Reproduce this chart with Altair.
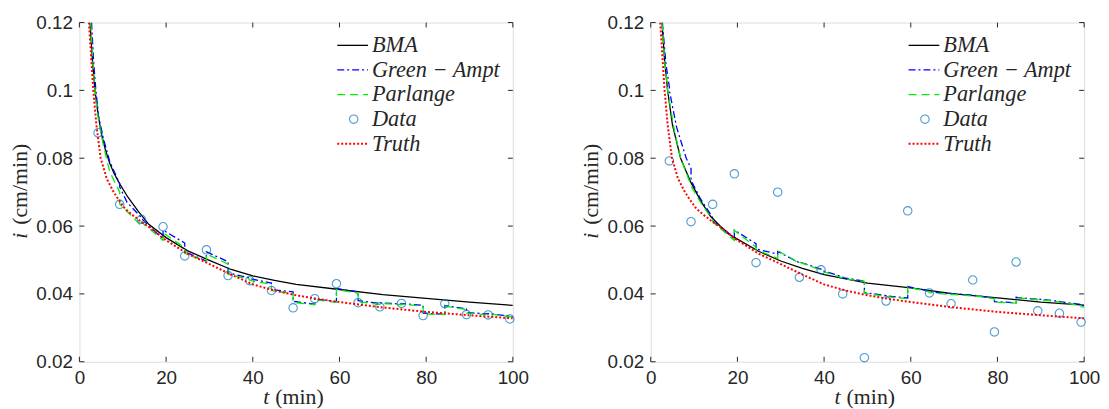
import altair as alt
import pandas as pd

# ---------------- data ----------------
t_data = [4.3, 9.3, 14.3, 19.3, 24.3, 29.3, 34.3, 39.3, 44.3, 49.3,
          54.3, 59.3, 64.3, 69.3, 74.3, 79.3, 84.3, 89.3, 94.3, 99.3]
left_data = [0.0875, 0.0664, 0.0620, 0.0598, 0.0512, 0.0530, 0.0454, 0.0439, 0.0410, 0.0359,
             0.0386, 0.0430, 0.0374, 0.0362, 0.0372, 0.0336, 0.0371, 0.0339, 0.0338, 0.0326]
right_data = [0.0792, 0.0613, 0.0664, 0.0754, 0.0492, 0.0700, 0.0449, 0.0471, 0.0400, 0.0212,
              0.0379, 0.0645, 0.0403, 0.0371, 0.0441, 0.0288, 0.0494, 0.0350, 0.0343, 0.0317]

bma_left_t = [2.45, 3.0, 3.6, 4.3, 5.1, 6.0, 7.0, 8.0, 9.4, 11.2, 13.5, 16, 20, 25, 30, 35, 40, 45, 50,
              60, 70, 80, 90, 100]
bma_left_v = [0.120, 0.109, 0.100, 0.093, 0.087, 0.0825, 0.0785, 0.0755, 0.0722, 0.0685, 0.0645, 0.0605,
              0.0566, 0.0527, 0.0499, 0.0472, 0.0453, 0.0440, 0.0428, 0.0413, 0.0398, 0.0387, 0.0376,
              0.0366]

bma_right_t = [2.6, 3.2, 3.9, 5.0, 6.9, 9.3, 11.5, 13.8, 16, 18.7, 25, 30, 35, 40, 50, 60, 70, 80, 90, 100]
bma_right_v = [0.120, 0.109, 0.100, 0.090, 0.080, 0.0728, 0.0675, 0.0629, 0.0600, 0.0571, 0.0525, 0.0497,
               0.0475, 0.0457, 0.0432, 0.0418, 0.0400, 0.0388, 0.0376, 0.0367]

truth_t = [2.2, 2.7, 3.2, 3.9, 4.9, 6.3, 7.7, 8.9, 10.5, 12, 14, 16.3, 20, 25, 30, 35, 40, 45, 50, 55,
           60, 70, 80, 90, 100]
truth_v = [0.120, 0.110, 0.100, 0.090, 0.080, 0.0740, 0.0705, 0.0680, 0.0652, 0.0635, 0.0615, 0.0595,
           0.0558, 0.0518, 0.0488, 0.0457, 0.0428, 0.0410, 0.0396, 0.0385, 0.0376, 0.0360, 0.0347,
           0.0337, 0.0328]

ga_left_t = [2.8, 3.3, 3.8, 4.3, 4.3, 5.5, 7.0, 9.3, 9.3, 11.0, 14.3, 14.3, 19.3, 19.3, 24.3, 24.3, 29.3,
             29.3, 34.3, 34.3, 39.3, 39.3, 44.3, 44.3, 49.3, 49.3, 54.3, 54.3, 59.3, 59.3, 64.3, 64.3,
             69.3, 69.3, 74.3, 74.3, 79.3, 79.3, 84.3, 84.3, 89.3, 89.3, 94.3, 94.3, 99.3, 99.3, 100]
ga_left_v = [0.120, 0.108, 0.100, 0.094, 0.093, 0.086, 0.079, 0.0725, 0.0715, 0.0670, 0.0625, 0.0622,
             0.0562, 0.0588, 0.0550, 0.0524, 0.0497, 0.0524, 0.0495, 0.0462, 0.0447, 0.0445, 0.0432,
             0.0413, 0.0406, 0.0378, 0.0370, 0.0385, 0.0377, 0.0416, 0.0405, 0.0380, 0.0372, 0.0374,
             0.0370, 0.0372, 0.0366, 0.0343, 0.0340, 0.0366, 0.0356, 0.0345, 0.0341, 0.0342, 0.0335,
             0.0334, 0.0333]

pa_left_t = [2.6, 3.2, 3.8, 4.3, 5.5, 7.0, 9.3, 9.3, 11.7, 14.3, 14.3, 19.3, 19.3, 24.3, 24.3, 29.3,
             29.3, 34.3, 34.3, 39.3, 39.3, 44.3, 44.3, 49.3, 49.3, 54.3, 54.3, 59.3, 59.3, 64.3, 64.3,
             69.3, 69.3, 74.3, 74.3, 79.3, 79.3, 84.3, 84.3, 89.3, 89.3, 94.3, 94.3, 99.3, 99.3, 100]
pa_left_v = [0.120, 0.106, 0.097, 0.092, 0.084, 0.076, 0.0700, 0.0665, 0.0634, 0.0600, 0.0612, 0.0558,
             0.0580, 0.0536, 0.0520, 0.0495, 0.0518, 0.0488, 0.0458, 0.0443, 0.0440, 0.0428, 0.0410,
             0.0400, 0.0375, 0.0368, 0.0383, 0.0375, 0.0413, 0.0402, 0.0377, 0.0369, 0.0372, 0.0368,
             0.0370, 0.0364, 0.0341, 0.0339, 0.0364, 0.0354, 0.0343, 0.0339, 0.0341, 0.0334, 0.0333,
             0.0332]

ga_right_t = [2.7, 3.5, 4.3, 4.3, 6.0, 8.2, 9.3, 9.3, 11.5, 14.3, 14.3, 19.3, 19.3, 24.3, 24.3, 29.3,
              29.3, 34.3, 34.3, 39.3, 39.3, 44.3, 44.3, 49.3, 49.3, 54.3, 54.3, 59.3, 59.3, 64.3, 64.3,
              69.3, 69.3, 74.3, 74.3, 79.3, 79.3, 84.3, 84.3, 89.3, 89.3, 94.3, 94.3, 99.3, 99.3, 100]
ga_right_v = [0.120, 0.108, 0.101, 0.100, 0.089, 0.080, 0.0770, 0.0735, 0.0680, 0.0625, 0.0615, 0.0562,
              0.0588, 0.0548, 0.0533, 0.0517, 0.0525, 0.0492, 0.0494, 0.0473, 0.0470, 0.0450, 0.0448,
              0.0438, 0.0404, 0.0395, 0.0394, 0.0388, 0.0422, 0.0408, 0.0406, 0.0400, 0.0401, 0.0396,
              0.0396, 0.0388, 0.0377, 0.0374, 0.0390, 0.0384, 0.0385, 0.0378, 0.0377, 0.0369, 0.0366,
              0.0365]

pa_right_t = [2.6, 3.2, 3.9, 4.3, 5.5, 6.9, 9.3, 9.3, 11.5, 14.3, 14.3, 19.3, 19.3, 24.3, 24.3, 29.3,
              29.3, 34.3, 34.3, 39.3, 39.3, 44.3, 44.3, 49.3, 49.3, 54.3, 54.3, 59.3, 59.3, 64.3, 64.3,
              69.3, 69.3, 74.3, 74.3, 79.3, 79.3, 84.3, 84.3, 89.3, 89.3, 94.3, 94.3, 99.3, 99.3, 100]
pa_right_v = [0.120, 0.109, 0.100, 0.097, 0.088, 0.080, 0.0720, 0.0718, 0.0670, 0.0618, 0.0612, 0.0558,
              0.0587, 0.0538, 0.0530, 0.0505, 0.0528, 0.0490, 0.0494, 0.0470, 0.0468, 0.0447, 0.0445,
              0.0437, 0.0402, 0.0393, 0.0392, 0.0386, 0.0420, 0.0406, 0.0404, 0.0398, 0.0399, 0.0394,
              0.0395, 0.0386, 0.0375, 0.0373, 0.0389, 0.0383, 0.0384, 0.0376, 0.0375, 0.0366, 0.0362,
              0.0361]

x_ticks = [0, 20, 40, 60, 80, 100]
y_ticks = [0.02, 0.04, 0.06, 0.08, 0.10, 0.12]
legend_labels = ["BMA", "Green \u2212 Ampt", "Parlange", "Data", "Truth"]

# ---------------- styling ----------------
W, H = 437, 342
AX = "#262626"
SANS = "Liberation Sans"
SERIF = "Liberation Serif"
C_BMA, C_GA, C_PA, C_DATA, C_TR = "#000000", "#0000ff", "#00ee00", "#0072BD", "#ff0000"
DASH_GA, DASH_PA, DASH_TR = [7, 3, 2, 3], [8, 5], [2, 2]

xs = alt.Scale(domain=[0, 100], nice=False, zero=False)
ys = alt.Scale(domain=[0.02, 0.12], nice=False, zero=False)
X = alt.X("t:Q", scale=xs, title=None,
          axis=alt.Axis(values=x_ticks, format="d", labelFlush=False, ticks=False, domain=False,
                        grid=False, labelPadding=7, labelFontSize=19, labelFont=SANS, labelColor=AX))
Y = alt.Y("v:Q", scale=ys, title=None,
          axis=alt.Axis(values=y_ticks, format=".2~f", ticks=False, domain=False, grid=False,
                        labelPadding=7, labelFontSize=19, labelFont=SANS, labelColor=AX))


def line_layer(ts, vs, color, width, dash=None):
    df = pd.DataFrame({"t": ts, "v": vs, "i": list(range(len(ts)))})
    kw = dict(color=color, strokeWidth=width, clip=True)
    if dash:
        kw["strokeDash"] = dash
    return alt.Chart(df).mark_line(**kw).encode(x=X, y=Y, order="i:Q")


def one():
    return pd.DataFrame({"k": [0]})


def text_layer(s, x, y, size, style="normal", align="left", angle=0, font=SERIF):
    return alt.Chart(one()).mark_text(text=s, font=font, fontSize=size, fontStyle=style, align=align,
                                      baseline="middle", angle=angle, color=AX).encode(
        x=alt.value(x), y=alt.value(y))


def panel(bma, ga, pa, dat):
    layers = []
    layers.append(line_layer(bma[0], bma[1], C_BMA, 1.3))
    layers.append(line_layer(ga[0], ga[1], C_GA, 1.3, DASH_GA))
    layers.append(line_layer(pa[0], pa[1], C_PA, 1.3, DASH_PA))
    dd = pd.DataFrame({"t": t_data, "v": dat})
    layers.append(alt.Chart(dd).mark_point(shape="circle", filled=False, size=72, color=C_DATA,
                                           strokeWidth=1.1).encode(x=X, y=Y))
    layers.append(line_layer(truth_t, truth_v, C_TR, 2.0, DASH_TR))

    # inward tick marks on all four sides
    xt = pd.DataFrame({"t": x_ticks})
    yt = pd.DataFrame({"v": y_ticks})
    layers.append(alt.Chart(xt).mark_rule(color=AX, strokeWidth=1).encode(
        x=alt.X("t:Q", scale=xs), y=alt.value(H), y2=alt.value(H - 5)))
    layers.append(alt.Chart(xt).mark_rule(color=AX, strokeWidth=1).encode(
        x=alt.X("t:Q", scale=xs), y=alt.value(0), y2=alt.value(5)))
    layers.append(alt.Chart(yt).mark_rule(color=AX, strokeWidth=1).encode(
        y=alt.Y("v:Q", scale=ys), x=alt.value(0), x2=alt.value(5)))
    layers.append(alt.Chart(yt).mark_rule(color=AX, strokeWidth=1).encode(
        y=alt.Y("v:Q", scale=ys), x=alt.value(W - 5), x2=alt.value(W)))

    # legend (manual, MATLAB style)
    lx0, lx1, ltx, ly0, ldy = 260, 291, 295, 23, 24.8
    styles = [(C_BMA, None, 1.3), (C_GA, DASH_GA, 1.3), (C_PA, DASH_PA, 1.3), None, (C_TR, DASH_TR, 2.0)]
    for k, lab in enumerate(legend_labels):
        yy = ly0 + k * ldy
        st = styles[k]
        if st is None:
            layers.append(alt.Chart(one()).mark_point(shape="circle", filled=False, size=72, color=C_DATA,
                                                      strokeWidth=1.1).encode(
                x=alt.value((lx0 + lx1) / 2 + 1), y=alt.value(yy)))
        else:
            kw = dict(color=st[0], strokeWidth=st[2])
            if st[1]:
                kw["strokeDash"] = st[1]
            layers.append(alt.Chart(one()).mark_rule(**kw).encode(
                x=alt.value(lx0), x2=alt.value(lx1), y=alt.value(yy)))
        layers.append(text_layer(lab, ltx, yy, 22.5, style="italic"))

    # axis titles
    layers.append(text_layer("t", W / 2 - 27, H + 36, 22, style="italic", align="right"))
    layers.append(text_layer("(min)", W / 2 - 21, H + 36, 22))
    layers.append(text_layer("i", -60, 218, 22, style="italic", angle=270))
    layers.append(text_layer("(cm/min)", -60, 204, 22, angle=270))

    return alt.layer(*layers).properties(width=W, height=H)


left = panel((bma_left_t, bma_left_v), (ga_left_t, ga_left_v), (pa_left_t, pa_left_v), left_data)
right = panel((bma_right_t, bma_right_v), (ga_right_t, ga_right_v), (pa_right_t, pa_right_v), right_data)

chart = alt.hconcat(left, right, spacing=50).properties(
    padding={"left": 0, "top": 3, "right": 0, "bottom": 0}
).configure_view(stroke=AX, strokeWidth=1).configure(background="white")

chart.save("out.html", embed_options={"renderer": "svg", "actions": False})
